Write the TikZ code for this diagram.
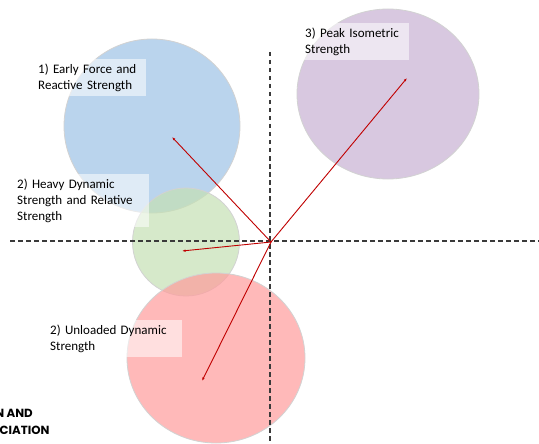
\documentclass[tikz,border=0pt]{standalone}
\usepackage{fontspec}
\setmainfont{Carlito}
\newfontfamily\logofont{Poppins}
\usetikzlibrary{arrows.meta,positioning,shapes.geometric}
\definecolor{zoneBlue}{HTML}{9DC3E6}
\definecolor{zoneGreen}{HTML}{C5E0B4}
\definecolor{zoneRed}{HTML}{FF9C9C}
\definecolor{zonePurple}{HTML}{C8B2D4}
\definecolor{zoneEdge}{HTML}{D2D2D2}
\definecolor{axisInk}{HTML}{3A3A3A}
\definecolor{vecRed}{HTML}{C00000}
\begin{document}
\begin{tikzpicture}[x=1pt,y=-1pt,>=Latex,line cap=round,line join=round]
\path[fill=white] (0,0) rectangle (539,444);
\clip (0,0) rectangle (539,444);
\tikzset{zone/.style={ellipse,draw=zoneEdge,line width=0.8pt,fill opacity=0.7,inner sep=0pt},axis/.style={draw=axisInk,line width=1.3pt,dash pattern=on 4.5pt off 3.5pt,line cap=butt},vec/.style={draw=vecRed,line width=0.9pt,-{Latex[length=3.5pt,width=2.5pt]}},tag/.style={anchor=north west,fill=white,fill opacity=0.55,text opacity=1,align=left,inner xsep=5pt,inner ysep=4.5pt,font=\fontsize{13}{16}\selectfont}}
\node[zone,fill=zoneBlue,minimum width=176pt,minimum height=174pt] (early) at (152,126) {};
\node[zone,fill=zoneGreen,minimum width=107pt,minimum height=108pt] (heavy) at (186,242) {};
\node[zone,fill=zoneRed,minimum width=178pt,minimum height=170pt] (unloaded) at (216,358) {};
\node[zone,fill=zonePurple,minimum width=182pt,minimum height=170pt] (peak) at (388,94) {};
\draw[axis] (10,241) -- (539,241);
\draw[axis] (270,52) -- (270,444);
\coordinate (origin) at (271,242);
\coordinate (earlyTip) at (172,137);
\coordinate (peakTip) at (407,78);
\coordinate (heavyTip) at (182,251);
\coordinate (unloadedTip) at (202,381);
\draw[vec] (origin) -- (earlyTip);
\draw[vec] (origin) -- (peakTip);
\draw[vec] (origin) -- (heavyTip);
\draw[vec] (origin) -- (unloadedTip);
\node[tag,text width=103pt] (earlyTag) at (33,59) {1) Early Force and\\Reactive Strength};
\node[tag,text width=127pt] (heavyTag) at (12,174) {2) Heavy Dynamic\\Strength and Relative\\Strength};
\node[tag,text width=99pt] (peakTag) at (300,23) {3) Peak Isometric\\Strength};
\node[tag,text width=127pt] (unloadedTag) at (45,320) {2) Unloaded Dynamic\\Strength};
\node[anchor=east,inner sep=0pt,font=\logofont\bfseries\fontsize{11.8}{12}\selectfont] (logoTop) at (33,413) {N AND};
\node[anchor=west,inner sep=0pt,font=\logofont\bfseries\fontsize{11.8}{12}\selectfont] (logoBottom) at (-0.5,430) {CIATION};
\end{tikzpicture}
\end{document}
